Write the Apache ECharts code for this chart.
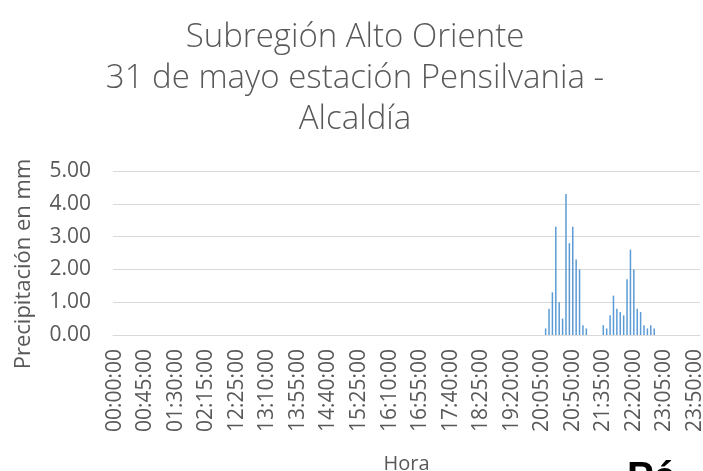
<!DOCTYPE html>
<html>
<head>
<meta charset="utf-8">
<script src="https://cdn.jsdelivr.net/npm/echarts@6/dist/echarts.min.js"></script>
<style>
  html, body { margin: 0; padding: 0; background: #fff; }
  #main { width: 703px; height: 471px; }
</style>
</head>
<body>
<div id="main"></div>
<script>
// tramos de 5 minutos presentes en la serie (hay huecos en los datos)
var timeSegments = [['00:00', '02:55'], ['12:25', '18:50'], ['19:05', '23:55']];

// dos aguaceros, valores (mm)
var burst1Start = '20:10:00';
var burst1 = [0.2, 0.8, 1.3, 3.3, 1.0, 0.5, 4.3, 2.8, 3.3, 2.3, 2.0, 0.3, 0.2];
var burst2Start = '21:35:00';
var burst2 = [0.3, 0.2, 0.6, 1.2, 0.8, 0.7, 0.6, 1.7, 2.6, 2.0, 0.8, 0.7, 0.3, 0.2, 0.3, 0.2];

var yTicks = [0, 1, 2, 3, 4, 5];

function toMin(s) { var p = s.split(':'); return +p[0] * 60 + +p[1]; }
function pad(n) { return (n < 10 ? '0' : '') + n; }

var hours = [];
timeSegments.forEach(function (seg) {
    for (var m = toMin(seg[0]); m <= toMin(seg[1]); m += 5) {
        hours.push(pad(Math.floor(m / 60)) + ':' + pad(m % 60) + ':00');
    }
});

var rain = hours.map(function () { return 0; });
[[burst1Start, burst1], [burst2Start, burst2]].forEach(function (b) {
    var i0 = hours.indexOf(b[0]);
    b[1].forEach(function (v, k) { rain[i0 + k] = v; });
});

var font = 'Open Sans';
var grey = '#595959';

var myChart = echarts.init(document.getElementById('main'));
myChart.setOption({
    animation: false,
    title: {
        text: 'Subregión Alto Oriente\n31 de mayo estación Pensilvania -\nAlcaldía',
        left: 350,
        textAlign: 'center',
        top: 12,
        textStyle: {
            fontFamily: font,
            fontSize: 33,
            fontWeight: 300,
            lineHeight: 41,
            color: grey
        }
    },
    grid: {
        left: 113,
        right: 3,
        top: 171,
        bottom: 136,
        outerBoundsMode: 'none'
    },
    xAxis: {
        type: 'category',
        data: hours,
        name: 'Hora',
        nameLocation: 'middle',
        nameGap: 119,
        nameTextStyle: {
            fontFamily: font,
            fontSize: 20,
            color: grey
        },
        axisLine: { lineStyle: { color: '#d9d9d9', width: 1 } },
        axisTick: { show: false },
        axisLabel: {
            interval: 8,
            rotate: 90,
            margin: 14,
            fontFamily: font,
            fontSize: 21,
            color: grey
        }
    },
    yAxis: {
        type: 'value',
        min: yTicks[0],
        max: yTicks[yTicks.length - 1],
        interval: 1,
        name: 'Precipitación en mm',
        nameLocation: 'middle',
        nameGap: 78,
        nameTextStyle: {
            fontFamily: font,
            fontSize: 22,
            color: grey,
            padding: [0, 22, 0, 0]
        },
        axisLine: { show: false },
        axisTick: { show: false },
        splitLine: { lineStyle: { color: '#d9d9d9', width: 1 } },
        axisLabel: {
            margin: 22,
            fontFamily: font,
            fontSize: 21,
            color: grey,
            formatter: function (v) { return v.toFixed(2); }
        }
    },
    series: [{
        type: 'bar',
        data: rain,
        barWidth: 1.5,
        itemStyle: { color: '#5b9bd5' }
    }],
    graphic: [{
        type: 'text',
        left: 627,
        top: 459,
        style: {
            text: 'Pá',
            fontFamily: 'Liberation Sans',
            fontWeight: 'bold',
            fontSize: 40,
            fill: '#000'
        }
    }]
});
</script>
</body>
</html>
